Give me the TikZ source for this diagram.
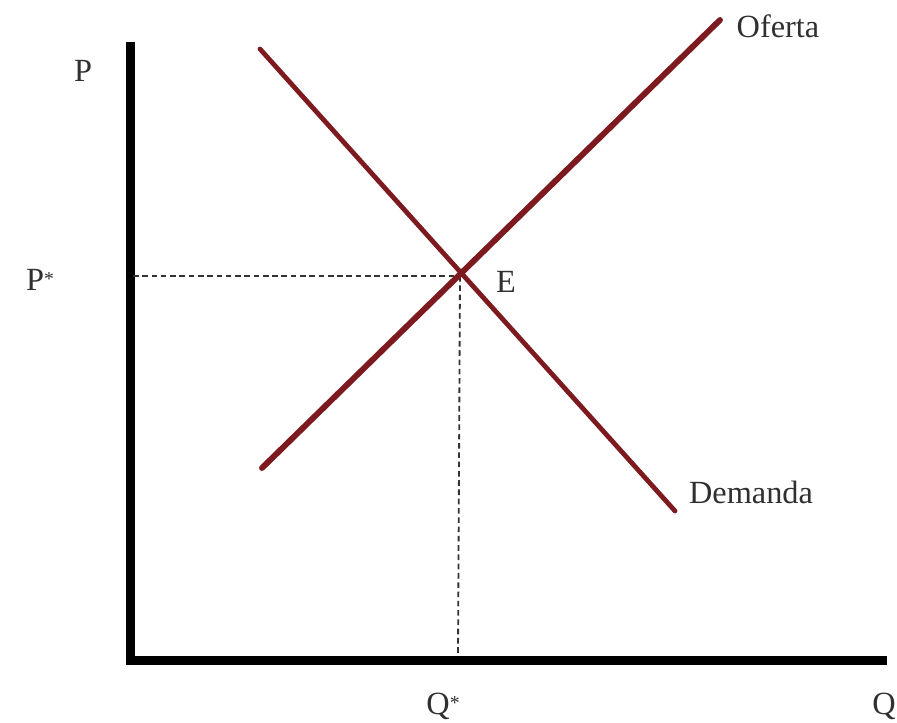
\documentclass[tikz,border=0pt]{standalone}
\usepackage{fontspec}
\setmainfont{Liberation Serif}
\usetikzlibrary{positioning}
\definecolor{curve}{HTML}{7d1a20}
\definecolor{lbl}{HTML}{303030}
\newcommand{\smallstar}{{\fontsize{14}{14}\selectfont\raisebox{0.25em}{*}}}
\tikzset{
  axisline/.style  = {line width=6.4pt, black},
  supplyline/.style = {line width=4.2pt, curve, line cap=round},
  demandline/.style = {line width=3.4pt, curve, line cap=round},
  guide/.style     = {line width=1.3pt, black!80, dash pattern=on 4pt off 2.6pt},
  axlbl/.style     = {font=\fontsize{23}{26}\selectfont, text=lbl, inner sep=0pt},
}
\begin{document}
\begin{tikzpicture}[x=0.025cm, y=-0.025cm]
    \useasboundingbox (0,0) rectangle (897,723);
    % Axes
    \coordinate (o)  at (130,660);
    \coordinate (py) at (130,42);
    \coordinate (qx) at (887,660);
    \draw[axisline] (py)--(o)--(qx);

    % Curves
    \coordinate (s0) at (262,468);
    \coordinate (s1) at (720,20);
    \coordinate (d0) at (260,49);
    \coordinate (d1) at (675,511);
    \coordinate (eq) at (460,276);
    \coordinate (pe) at (133,276);
    \coordinate (qe) at (458,656);
    \draw[guide] (pe)--(eq);
    \draw[guide] (eq)--(qe);
    \draw[supplyline] (s0)--(s1);
    \draw[demandline] (d0)--(d1);

    % Labels
    \node[axlbl] (lp)   at (83,71)   {P};
    \node[axlbl] (lps)  at (40,280)  {P\smallstar};
    \node[axlbl] (lqs)  at (443,706) {Q\smallstar};
    \node[axlbl] (lq)   at (884,706) {Q};
    \node[axlbl] (le)   at (506,282) {E};
    \node[axlbl] (lof)  at (778,26)  {Oferta};
    \node[axlbl] (ldem) at (751,492) {Demanda};
\end{tikzpicture}
\end{document}
